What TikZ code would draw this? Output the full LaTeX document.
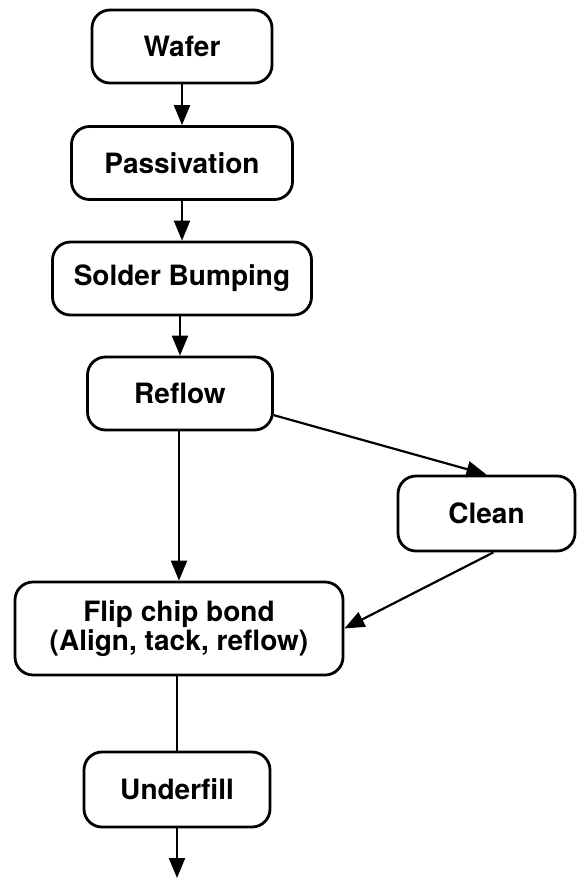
\documentclass[tikz,border=0pt]{standalone}
\usepackage{fontspec}
\setmainfont{TeX Gyre Heros}
\usepackage{tikz}
\usetikzlibrary{arrows.meta}

\begin{document}
\begin{tikzpicture}[
  x=0.5pt, y=-0.5pt,
  >={Triangle[length=10pt,width=8pt]},
  every node/.style={font=\fontsize{14}{13}\selectfont\bfseries},
  stage/.style={draw, line width=1.4pt, rounded corners=9pt, minimum height=36.5pt, inner sep=0pt, align=center},
  arr/.style={->, line width=1.1pt},
  link/.style={line width=1.1pt},
]
  \useasboundingbox (0,0) rectangle (577,879);

  % ---------- Main column ----------
  \node[stage, minimum width=90pt]    (wafer)  at (182, 46.5)  {Wafer};
  \node[stage, minimum width=110.5pt] (pass)   at (182, 163)   {Passivation};
  \node[stage, minimum width=129.5pt] (bump)   at (182, 278.5) {Solder Bumping};
  \node[stage, minimum width=92.5pt]  (reflow) at (180, 393.5) {Reflow};
  \node[stage, minimum width=164pt, minimum height=46.5pt]
                                      (flip)   at (179, 628.5) {Flip chip bond\\(Align, tack, reflow)};
  \node[stage, minimum width=93pt, minimum height=37.5pt]
                                      (under)  at (177, 789.5) {Underfill};
  \coordinate (out) at (177, 878);

  % ---------- Side branch ----------
  \node[stage, minimum width=88.5pt, minimum height=37.5pt]
                                      (clean)  at (486.5, 513.5) {Clean};

  % connectors
  \draw[arr] (wafer) -- (pass);
  \draw[arr] (pass) -- (bump);
  \draw[arr] (bump.south -| reflow) -- (reflow);
  \draw[arr] (reflow.south -| flip) -- (flip);
  \draw[link] (flip.south -| under) -- (under);
  \draw[arr] (under) -- (out);
  \draw[arr] (reflow.-13) -- (clean.north);
  \draw[arr] (clean.-80) -- (flip.east);
\end{tikzpicture}
\end{document}
